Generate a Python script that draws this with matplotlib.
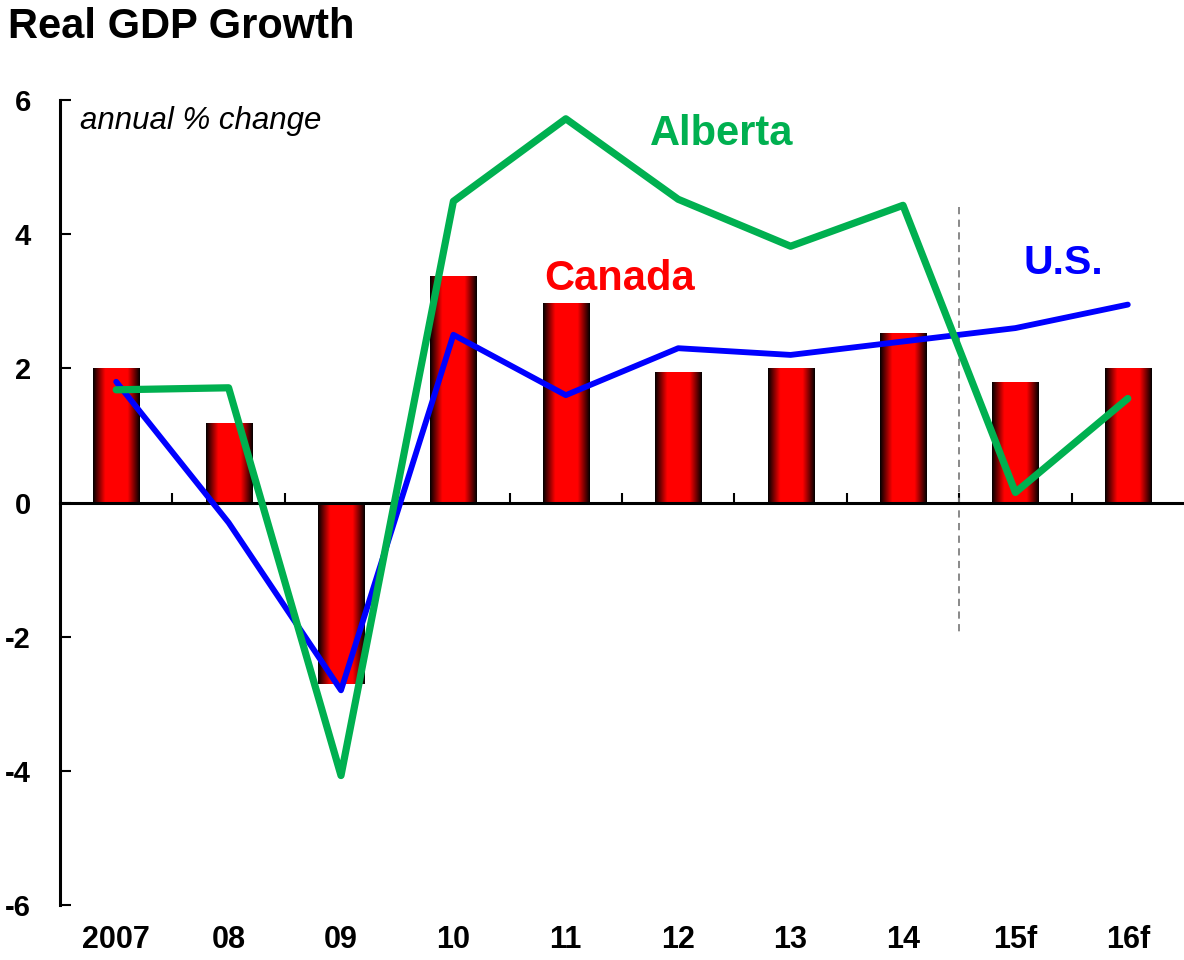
import matplotlib
matplotlib.use("Agg")
import matplotlib.pyplot as plt
import numpy as np
from matplotlib.colors import LinearSegmentedColormap
from matplotlib.transforms import blended_transform_factory

categories = ["2007", "08", "09", "10", "11", "12", "13", "14", "15f", "16f"]
canada = [2.01, 1.18, -2.71, 3.38, 2.97, 1.94, 2.0, 2.53, 1.80, 2.0]
us = [1.8, -0.3, -2.8, 2.5, 1.6, 2.3, 2.2, 2.4, 2.6, 2.95]
alberta = [1.68, 1.71, -4.07, 4.49, 5.72, 4.52, 3.82, 4.43, 0.15, 1.55]
yticks = [-6, -4, -2, 0, 2, 4, 6]

plt.rcParams['font.family'] = ['Liberation Sans', 'DejaVu Sans']

fig = plt.figure(figsize=(11.84, 9.6), dpi=100)
ax = fig.add_axes([60/1184, 1-905/960, 1-60/1184, 805/960])
x = np.arange(len(categories))

bars = ax.bar(x, canada, width=0.41, color='none', edgecolor='none', zorder=2)
cmap = LinearSegmentedColormap.from_list(
    'bar', [(0.0, '#000000'), (0.26, '#ff0000'), (0.74, '#ff0000'), (1.0, '#000000')])
grad = np.linspace(0, 1, 256).reshape(1, -1)
for b in bars:
    x0, y0 = b.get_x(), b.get_y()
    w, h = b.get_width(), b.get_height()
    ax.imshow(grad, cmap=cmap, extent=(x0, x0+w, min(y0, y0+h), max(y0, y0+h)),
              aspect='auto', zorder=2, interpolation='bilinear')
ax.set_xlim(-0.5, len(categories)-0.5)
ax.set_ylim(-6, 6)

ax.plot(x, us, color='#0000ff', lw=4.2, zorder=4, solid_capstyle='round')
ax.plot(x, alberta, color='#00b050', lw=5.2, zorder=5, solid_capstyle='round')

ax.plot([7.5, 7.5], [4.41, -1.95], color='#808080', lw=1.3, ls=(0, (4, 3)), zorder=3)

# spines
for s in ['top', 'right']:
    ax.spines[s].set_visible(False)
ax.spines['bottom'].set_position(('data', 0))
ax.spines['bottom'].set_linewidth(2.2)
ax.spines['bottom'].set_zorder(3)
ax.spines['left'].set_linewidth(2.2)

ax.set_yticks(yticks)
ax.set_yticklabels([str(v) for v in yticks], fontsize=21, fontweight='bold')
ax.tick_params(axis='y', direction='in', length=8, width=1.5, pad=21)

ax.set_xticks(np.arange(0.5, len(categories)-0.5, 1.0))
ax.set_xticklabels([])
ax.tick_params(axis='x', direction='in', length=7, width=1.5)

tr = blended_transform_factory(ax.transData, ax.transAxes)
for i, c in enumerate(categories):
    ax.text(i, -0.044, c, transform=tr, ha='center', va='center',
            fontsize=22, fontweight='bold')

ax.text(-0.32, 5.68, "annual % change", fontsize=22.5, fontstyle='italic',
        ha='left', va='center')
ax.text(5.39, 5.50, "Alberta", color='#00b050', fontsize=30, fontweight='bold',
        ha='center', va='center')
ax.text(4.48, 3.33, "Canada", color='#ff0000', fontsize=30, fontweight='bold',
        ha='center', va='center')
ax.text(8.43, 3.57, "U.S.", color='#0000ff', fontsize=29.5, fontweight='bold',
        ha='center', va='center')

fig.text(8/1184, 1-27/960, "Real GDP Growth", fontsize=30, fontweight='bold',
         ha='left', va='center')

fig.savefig("out.png", dpi=100)
